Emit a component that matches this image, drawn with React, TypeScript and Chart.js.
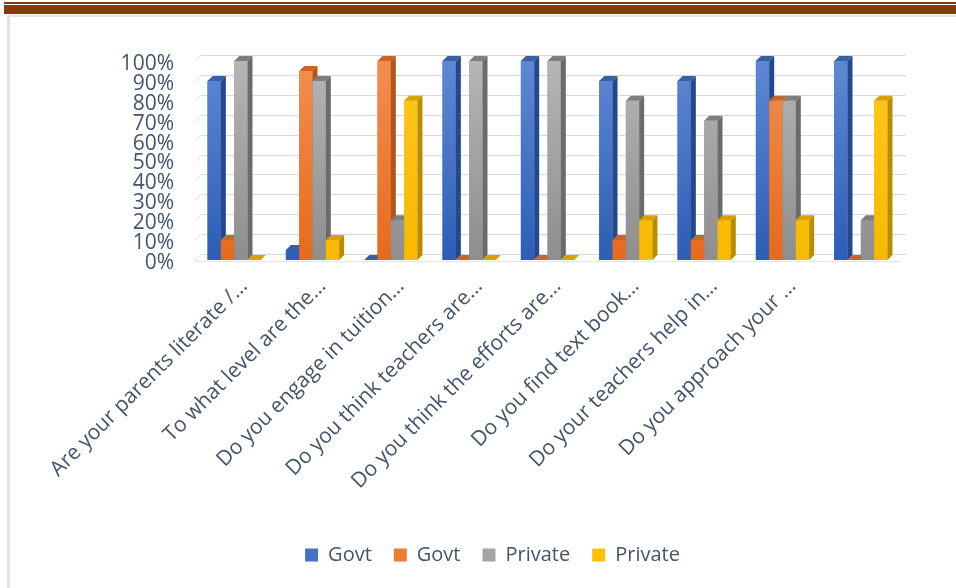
import React, { useEffect, useRef } from 'react';
import { Chart, registerables } from 'chart.js';

Chart.register(...registerables);

const categories = [
  'Are your parents literate /…',
  'To what level are the…',
  'Do you engage in tuition…',
  'Do you think teachers are…',
  'Do you think the efforts are…',
  'Do you find text book…',
  'Do your teachers help in…',
  'Do you approach your …',
  '',
];

const seriesNames = ['Govt', 'Govt', 'Private', 'Private'];
const govtBlue = [90, 5, 0, 100, 100, 90, 90, 100, 100];
const govtOrange = [10, 95, 100, 0, 0, 10, 10, 80, 0];
const privateGray = [100, 90, 20, 100, 100, 80, 70, 80, 20];
const privateYellow = [0, 10, 80, 0, 0, 20, 20, 20, 80];

const yMin = 0;
const yMax = 100;
const yStep = 10;

const palettes = [
  { base: '#4472C4', light: '#5E88D4', dark: '#2D5DB5', side: '#23488C', top: '#36609F' },
  { base: '#ED7D31', light: '#F28E50', dark: '#E66A1C', side: '#B5541A', top: '#C9642A' },
  { base: '#A5A5A5', light: '#B5B5B5', dark: '#8E8E8E', side: '#6B6B6B', top: '#7E7E7E' },
  { base: '#FFC000', light: '#FFC81E', dark: '#F7B900', side: '#B98C00', top: '#D6A200' },
];

const TEXT = '#44546A';
const DEPTH = 5;
const GRID_DEPTH = 6;

const bar3d = {
  id: 'bar3d',
  beforeDatasetsDraw(chart: any) {
    const { ctx, chartArea } = chart;
    const ys = chart.scales.y;
    ctx.save();
    ctx.strokeStyle = '#D9D9D9';
    ctx.lineWidth = 1;
    for (let v = yMin; v <= yMax; v += yStep) {
      const y = Math.round(ys.getPixelForValue(v)) + 0.5;
      ctx.beginPath();
      ctx.moveTo(chartArea.left, y);
      ctx.lineTo(chartArea.left + GRID_DEPTH, y - GRID_DEPTH);
      ctx.lineTo(chartArea.right + GRID_DEPTH, y - GRID_DEPTH);
      ctx.stroke();
    }
    const y0 = Math.round(ys.getPixelForValue(0)) + 0.5;
    ctx.strokeStyle = '#E4E4E4';
    ctx.beginPath();
    ctx.moveTo(chartArea.left, y0 + 1);
    ctx.lineTo(chartArea.right, y0 + 1);
    ctx.stroke();
    ctx.restore();
  },
  afterDatasetsDraw(chart: any) {
    const { ctx, chartArea } = chart;
    const d = DEPTH;
    ctx.save();
    for (let i = 0; i < chart.data.datasets.length; i++) {
      const meta = chart.getDatasetMeta(i);
      const pal = palettes[i];
      meta.data.forEach((bar: any) => {
        const p = bar.getProps(['x', 'y', 'base', 'width'], true);
        const l = p.x - p.width / 2;
        const r = p.x + p.width / 2;
        const top = Math.min(p.y, p.base);
        const bot = Math.max(p.y, p.base);
        const g = ctx.createLinearGradient(0, chartArea.top, 0, chartArea.bottom);
        g.addColorStop(0, pal.light);
        g.addColorStop(1, pal.dark);
        ctx.fillStyle = g;
        ctx.fillRect(l, top, r - l, bot - top);
        ctx.fillStyle = pal.side;
        ctx.beginPath();
        ctx.moveTo(r, top);
        ctx.lineTo(r + d, top - d);
        ctx.lineTo(r + d, bot - d);
        ctx.lineTo(r, bot);
        ctx.closePath();
        ctx.fill();
        ctx.fillStyle = pal.top;
        ctx.beginPath();
        ctx.moveTo(l, top);
        ctx.lineTo(l + d, top - d);
        ctx.lineTo(r + d, top - d);
        ctx.lineTo(r, top);
        ctx.closePath();
        ctx.fill();
      });
    }
    ctx.restore();
  },
};

export default function App() {
  const canvasRef = useRef<HTMLCanvasElement | null>(null);

  useEffect(() => {
    if (!canvasRef.current) return;
    const seriesData = [govtBlue, govtOrange, privateGray, privateYellow];
    const chart = new Chart(canvasRef.current, {
      type: 'bar',
      data: {
        labels: categories,
        datasets: seriesData.map((d, i) => ({
          label: seriesNames[i],
          data: d,
          backgroundColor: palettes[i].base,
          borderWidth: 0,
          categoryPercentage: 0.68,
          barPercentage: 1.0,
        })),
      },
      options: {
        responsive: false,
        animation: false,
        layout: { padding: { left: 75, top: 43, right: 56, bottom: 13 } },
        plugins: {
          tooltip: { enabled: false },
          legend: {
            position: 'bottom',
            labels: {
              boxWidth: 13,
              boxHeight: 13,
              padding: 22,
              color: TEXT,
              font: { family: 'Open Sans', size: 20 },
            },
          },
        },
        scales: {
          x: {
            grid: { display: false, drawTicks: false },
            border: { display: false },
            ticks: {
              autoSkip: false,
              maxRotation: 45,
              minRotation: 45,
              padding: 14,
              labelOffset: 10,
              color: TEXT,
              font: { family: 'Open Sans', size: 21 },
            },
            afterFit: (s: any) => {
              s.height = 263;
              s.paddingLeft = 0;
              s.paddingRight = 0;
            },
          },
          y: {
            min: yMin,
            max: yMax,
            grid: { display: false, drawTicks: false },
            border: { display: false },
            ticks: {
              stepSize: yStep,
              autoSkip: false,
              padding: 21,
              labelOffset: 3,
              color: TEXT,
              font: { family: 'Open Sans', size: 21 },
              callback: (v: any) => v + '%',
            },
            afterFit: (s: any) => {
              s.width = 110;
              s.paddingTop = 0;
              s.paddingBottom = 0;
            },
          },
        },
      },
      plugins: [bar3d],
    });
    return () => chart.destroy();
  }, []);

  return (
    <div style={{ position: 'fixed', left: 0, top: 0, width: 956, height: 588, background: '#fff', overflow: 'hidden' }}>
      <div style={{ position: 'absolute', left: 4, right: 0, top: 2, height: 2, background: '#843C0C' }} />
      <div style={{ position: 'absolute', left: 4, right: 0, top: 5, height: 9, background: '#843C0C' }} />
      <div style={{ position: 'absolute', left: 7, right: 0, top: 15, height: 2, background: '#DFE4EA' }} />
      <div style={{ position: 'absolute', left: 7, top: 15, width: 3, bottom: 0, background: '#DFE4EA' }} />
      <canvas
        ref={canvasRef}
        width={946}
        height={570}
        style={{ position: 'absolute', left: 10, top: 18, width: 946, height: 570 }}
      />
    </div>
  );
}
